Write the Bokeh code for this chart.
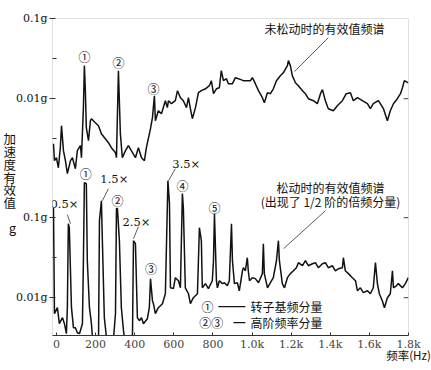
from bokeh.plotting import figure
from bokeh.models import (Range1d, LogScale, LinearAxis, FixedTicker,
                          CustomJSTickFormatter, Label, BoxAnnotation, Title, Div)
from bokeh.layouts import row
from bokeh.embed import file_html
from bokeh.resources import INLINE

# ---------------- data ----------------
# RMS spectrum before loosening (upper trace), frequency in Hz, RMS acceleration in g
freq_normal = [-15, -10, 0, 10, 20, 26, 36, 46, 56, 72, 82, 97, 107, 123, 128, 138, 143, 148, 153, 164,
               174, 179, 199, 215, 230, 250, 266, 281, 302, 307, 317, 327, 337, 353, 368, 383, 404, 419, 435, 450,
               460, 481, 491, 501, 506, 521, 537, 557, 567, 573, 588, 608, 619, 634, 649, 665, 675, 685, 695, 711,
               726, 741, 762, 782, 792, 803, 818, 833, 843, 854, 869, 879, 900, 915, 930, 956, 976, 992, 1002, 1017,
               1033, 1053, 1063, 1079, 1094, 1109, 1125, 1145, 1160, 1181, 1186, 1196, 1206, 1222, 1237, 1258, 1273, 1288, 1314, 1334,
               1350, 1360, 1375, 1390, 1416, 1436, 1462, 1482, 1503, 1518, 1539, 1564, 1590, 1605, 1620, 1646, 1672, 1692, 1707, 1723,
               1743, 1759, 1769, 1779, 1799]
acc_normal = [0.00274, 0.00168, 0.00183, 0.00137, 0.00244, 0.0046, 0.00224, 0.00168, 0.00116, 0.00168,
              0.00183, 0.00133, 0.00224, 0.00259, 0.00183, 0.00773, 0.0259, 0.0126, 0.00434, 0.00299,
              0.00531, 0.00562, 0.00501, 0.0046, 0.00365, 0.00316, 0.00282, 0.00244, 0.00211, 0.00183,
              0.0224, 0.00365, 0.00183, 0.00224, 0.00259, 0.00224, 0.00183, 0.00244, 0.00183, 0.00168,
              0.00244, 0.00422, 0.00579, 0.0109, 0.00531, 0.00708, 0.00649, 0.00944, 0.00773, 0.00944,
              0.00866, 0.00944, 0.0126, 0.0103, 0.00944, 0.00773, 0.0103, 0.0075, 0.00562, 0.00773,
              0.0119, 0.0126, 0.0133, 0.01455, 0.0168, 0.01155, 0.0133, 0.0137, 0.0224, 0.0168,
              0.0178, 0.0154, 0.0154, 0.0183, 0.0178, 0.0168, 0.0168, 0.0168, 0.0183, 0.0154,
              0.0126, 0.0103, 0.00891, 0.0119, 0.01155, 0.0133, 0.0168, 0.0194, 0.0211, 0.0259,
              0.0299, 0.0259, 0.0194, 0.0158, 0.01455, 0.0126, 0.01155, 0.01, 0.00944, 0.00866,
              0.01155, 0.013, 0.00944, 0.0075, 0.00708, 0.00818, 0.00944, 0.01155, 0.0119, 0.00944,
              0.0103, 0.00944, 0.00866, 0.0075, 0.00866, 0.00944, 0.0075, 0.00531, 0.00708, 0.00866,
              0.01, 0.01155, 0.0137, 0.0168, 0.0158]

# RMS spectrum after loosening (lower trace)
freq_loose = [-15, -10, 5, 15, 31, 41, 51, 56, 61, 66, 77, 87, 97, 107, 118, 133, 138, 143, 153, 158,
              169, 179, 189, 204, 215, 220, 230, 235, 245, 256, 266, 281, 291, 302, 307, 312, 322, 332, 343, 353,
              363, 378, 389, 394, 404, 414, 424, 435, 445, 465, 475, 481, 491, 496, 506, 521, 542, 557, 567, 570,
              578, 583, 598, 608, 624, 634, 644, 649, 659, 675, 685, 700, 721, 731, 741, 746, 762, 777, 797, 803,
              808, 818, 823, 833, 849, 859, 874, 884, 895, 900, 910, 925, 935, 951, 956, 966, 976, 981, 987, 1002,
              1017, 1033, 1053, 1058, 1063, 1079, 1094, 1109, 1125, 1135, 1140, 1155, 1166, 1181, 1196, 1212, 1227, 1237, 1258, 1273,
              1288, 1309, 1324, 1339, 1360, 1375, 1390, 1411, 1426, 1441, 1462, 1467, 1477, 1493, 1513, 1529, 1539, 1554, 1569, 1590,
              1605, 1620, 1631, 1641, 1651, 1666, 1677, 1692, 1707, 1718, 1723, 1738, 1748, 1769, 1784, 1799]
acc_loose = [0.133, 0.00631, 0.0075, 0.00473, 0.00562, 0.00473, 0.00355, 0.0075, 0.0841, 0.075,
             0.0075, 0.00422, 0.00422, 0.00365, 0.00355, 0.00473, 0.029, 0.274, 0.266, 0.029,
             0.0075, 0.00473, 0.0023, 0.00251, 0.0023, 0.0918, 0.163, 0.0516, 0.00562, 0.00316,
             0.00205, 0.00237, 0.0029, 0.00631, 0.13, 0.13, 0.0516, 0.0075, 0.00387, 0.00251,
             0.00237, 0.00251, 0.00355, 0.0516, 0.0473, 0.00562, 0.00516, 0.00562, 0.00473, 0.00546,
             0.0075, 0.0173, 0.00918, 0.00841, 0.00631, 0.0075, 0.00841, 0.0112, 0.133, 0.29,
             0.15, 0.0133, 0.013, 0.0178, 0.0163, 0.0133, 0.2, 0.133, 0.0133, 0.0112,
             0.00841, 0.01, 0.0112, 0.075, 0.0516, 0.0133, 0.015, 0.013, 0.0163, 0.029,
             0.112, 0.0163, 0.0133, 0.0163, 0.015, 0.0154, 0.0141, 0.0163, 0.0841, 0.029,
             0.015, 0.0154, 0.0122, 0.0217, 0.0237, 0.0217, 0.0316, 0.0217, 0.0163, 0.0178,
             0.0173, 0.0154, 0.02, 0.0473, 0.02, 0.0133, 0.0154, 0.0178, 0.029, 0.0516,
             0.029, 0.015, 0.0133, 0.0178, 0.02, 0.0217, 0.0237, 0.0274, 0.0251, 0.029,
             0.0251, 0.0266, 0.0274, 0.0237, 0.0266, 0.0274, 0.0237, 0.0251, 0.0217, 0.023,
             0.0237, 0.0316, 0.0217, 0.02, 0.0178, 0.0163, 0.0122, 0.0133, 0.01155, 0.0122,
             0.0112, 0.0133, 0.0274, 0.015, 0.0112, 0.00918, 0.0075, 0.01, 0.0112, 0.0217,
             0.0133, 0.0141, 0.015, 0.0133, 0.015, 0.0178]

x_ticks = [0, 200, 400, 600, 800, 1000, 1200, 1400, 1600, 1800]
x_tick_labels = ["0", "200", "400", "600", "800", "1.0k", "1.2k", "1.4k", "1.6k", "1.8k"]
top_ticks = [0.01, 0.1]
top_tick_labels = ["0.01g", "0.1g"]
bottom_ticks = [0.01, 0.1]
bottom_tick_labels = ["0.01g", "0.1g"]

# peak annotations: (text, Hz, g)
top_peaks = [("①", 143, 0.0335), ("②", 317, 0.0282), ("③", 496, 0.0133)]
loose_peaks = [("①", 150, 0.355), ("②", 312, 0.163), ("③", 483, 0.023),
               ("④", 644, 0.251), ("⑤", 808, 0.133)]
harmonic_text = [("0.5×", 41, 0.15), ("1.5×", 296, 0.307), ("2.5×", 409, 0.0891), ("3.5×", 664, 0.473)]
harmonic_leaders = [(56, 0.109, 72, 0.0841), (266, 0.23, 235, 0.163),
                    (419, 0.0773, 394, 0.0546), (608, 0.41, 573, 0.29)]

# ---------------- layout ----------------
FRAME_W, FRAME_H = 356, 317
BOT_LOG = (-2.4725, 1.49)      # log10 extent of the lower-trace scale
TOP_LOG = (-4.96, -0.9975)     # log10 extent of the upper-trace scale (same span)
SHIFT = 10 ** (BOT_LOG[1] - TOP_LOG[1])
X0, X1 = -20, 1800

CJK = "Noto Sans CJK SC"
SERIF = "DejaVu Serif"
INK = "#111111"

p = figure(frame_width=FRAME_W, frame_height=FRAME_H,
           x_range=Range1d(X0, X1),
           y_range=Range1d(10 ** BOT_LOG[0], 10 ** BOT_LOG[1]),
           y_axis_type="log", x_axis_location=None, y_axis_location=None,
           output_backend="svg", toolbar_location=None,
           min_border_top=18, min_border_left=52, min_border_right=23, min_border_bottom=0)
p.outline_line_color = None
p.grid.visible = False
p.background_fill_color = "white"
p.border_fill_color = "white"
p.extra_y_ranges = {"top": Range1d(10 ** TOP_LOG[0], 10 ** TOP_LOG[1])}
p.extra_y_scales = {"top": LogScale()}

# left axis: both scales' ticks on one axis line
left_pos = bottom_ticks + [t * SHIFT for t in top_ticks]
left_lab = bottom_tick_labels + top_tick_labels
left_minor = [10 ** -1.5, 10 ** -1.5 * SHIFT, 10 ** -2.5 * SHIFT]
fmt = CustomJSTickFormatter(args=dict(pos=left_pos, labs=left_lab), code="""
let best = -1, bd = 1e9;
for (let i = 0; i < pos.length; i++) {
  const d = Math.abs(Math.log10(pos[i]) - Math.log10(tick));
  if (d < bd) { bd = d; best = i; }
}
return bd < 0.01 ? labs[best] : "";
""")
yax = LinearAxis(ticker=FixedTicker(ticks=left_pos, minor_ticks=left_minor), formatter=fmt,
                 axis_line_color=None, major_tick_in=3, major_tick_out=3,
                 minor_tick_in=4, minor_tick_out=0,
                 major_tick_line_color="#333", minor_tick_line_color="#333",
                 major_label_text_font=SERIF, major_label_text_font_size="11px",
                 major_label_text_color=INK, major_label_standoff=2)

Y_TITLE = " \n加\n速\n度\n有\n效\n值\n \ng"
PROPS = LinearAxis.properties()
use_div = True
if "axis_label_orientation" in PROPS:
    yax.axis_label = Y_TITLE
    yax.axis_label_orientation = "horizontal"
    yax.axis_label_standoff = -3
    yax.axis_label_text_font = CJK
    yax.axis_label_text_font_size = "12.5px"
    yax.axis_label_text_font_style = "normal"
    yax.axis_label_text_color = INK
    if "axis_label_text_line_height" in PROPS:
        yax.axis_label_text_line_height = 0.667
    use_div = False
p.add_layout(yax, "left")

xax = LinearAxis(ticker=FixedTicker(ticks=x_ticks),
                 major_label_overrides=dict(zip(x_ticks, x_tick_labels)),
                 axis_line_color="#333",
                 major_tick_in=3, major_tick_out=0, minor_tick_line_color=None,
                 major_tick_line_color="#333", major_label_standoff=2,
                 major_label_text_font=SERIF, major_label_text_font_size="11px",
                 major_label_text_color="#444")
X_TITLE = "频率(Hz)"
title_done = False
if "axis_label_align" in PROPS:
    for al in ("end", "right"):
        try:
            xax.axis_label_align = al
            title_done = True
            break
        except Exception:
            pass
if title_done:
    xax.axis_label = X_TITLE
    xax.axis_label_standoff = -7
    xax.axis_label_text_font = CJK
    xax.axis_label_text_font_size = "11.5px"
    xax.axis_label_text_font_style = "normal"
    xax.axis_label_text_color = INK
p.add_layout(xax, "below")
if not title_done:
    p.add_layout(Title(text=X_TITLE, align="right", offset=-14, standoff=-10,
                       text_font=CJK, text_font_size="12.5px", text_font_style="normal",
                       text_color=INK), "below")

# frame border and right-hand ticks
p.add_layout(BoxAnnotation(left=X0, right=X1, bottom=10 ** BOT_LOG[0], top=10 ** BOT_LOG[1],
                           fill_color=None, fill_alpha=0, line_color="#333", line_width=1))
right_ticks = [top_ticks[0] * SHIFT] + bottom_ticks
p.segment([X1 - 25] * len(right_ticks), right_ticks, [X1] * len(right_ticks), right_ticks,
          line_color="#444", line_width=1)

# traces
p.line(freq_normal, acc_normal, y_range_name="top", line_color=INK, line_width=1.5)
p.line(freq_loose, acc_loose, line_color=INK, line_width=1.5)

# peak labels
for t, x, y in top_peaks:
    p.add_layout(Label(x=x, y=y, y_range_name="top", text=t, text_align="center",
                       text_baseline="middle", text_font=CJK, text_font_size="12px", text_color=INK))
for t, x, y in loose_peaks:
    p.add_layout(Label(x=x, y=y, text=t, text_align="center",
                       text_baseline="middle", text_font=CJK, text_font_size="12px", text_color=INK))
for t, x, y in harmonic_text:
    p.add_layout(Label(x=x, y=y, text=t, text_align="center",
                       text_baseline="middle", text_font=SERIF, text_font_size="11.5px", text_color=INK))
p.segment([h[0] for h in harmonic_leaders], [h[1] for h in harmonic_leaders],
          [h[2] for h in harmonic_leaders], [h[3] for h in harmonic_leaders],
          line_color="#333", line_width=0.8)

# callouts
p.add_layout(Label(x=1370, y=0.075, y_range_name="top", text="未松动时的有效值频谱",
                   text_align="center", text_baseline="middle", text_font=CJK,
                   text_font_size="12px", text_color=INK))
p.segment([1390], [0.0579], [1217], [0.0218], y_range_name="top", line_color="#333", line_width=0.8)
p.add_layout(Label(x=1401, y=0.237, text="松动时的有效值频谱", text_align="center",
                   text_baseline="middle", text_font=CJK, text_font_size="12px", text_color=INK))
p.add_layout(Label(x=1401, y=0.158, text="(出现了 1/2 阶的倍频分量)", text_align="center",
                   text_baseline="middle", text_font=CJK, text_font_size="12px", text_color=INK))
p.segment([1375], [0.122], [1161], [0.041], line_color="#333", line_width=0.8)

# key
p.add_layout(Label(x=772, y=0.00772, text="①", text_align="center", text_baseline="middle",
                   text_font=CJK, text_font_size="12px", text_color=INK))
p.add_layout(Label(x=792, y=0.00487, text="②③", text_align="center", text_baseline="middle",
                   text_font=CJK, text_font_size="12px", text_color=INK))
p.segment([828, 905], [0.00772, 0.00487], [966, 966], [0.00772, 0.00487], line_color=INK, line_width=1.2)
p.add_layout(Label(x=992, y=0.00772, text="转子基频分量", text_align="left", text_baseline="middle",
                   text_font=CJK, text_font_size="12px", text_color=INK))
p.add_layout(Label(x=992, y=0.00487, text="高阶频率分量", text_align="left", text_baseline="middle",
                   text_font=CJK, text_font_size="12px", text_color=INK))

if use_div:
    p.min_border_left = 36
    title_html = "<br>".join(Y_TITLE.strip().split("\n"))
    div = Div(text=f"<div style='font-family:\"{CJK}\";font-size:12.5px;line-height:12.4px;"
                   f"color:{INK};text-align:center;padding-top:137px'>{title_html}</div>",
              width=16, height=300)
    root = row(div, p, spacing=0)
else:
    root = p

open("out.html", "w").write(file_html(root, INLINE))
